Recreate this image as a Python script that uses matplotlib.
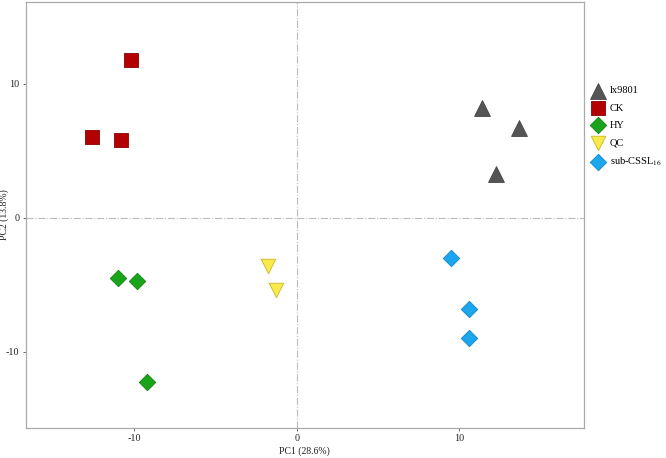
import matplotlib
matplotlib.use("Agg")
import matplotlib.pyplot as plt

plt.rcParams['font.family'] = ['Liberation Serif', 'DejaVu Serif']
plt.rcParams['mathtext.fontset'] = 'stix'
plt.rcParams['axes.unicode_minus'] = False

# PCA scores
groups = ["lx9801", "CK", "HY", "QC", "sub-CSSL$_{16}$"]
pc1 = [
    [11.4, 13.7, 12.3],
    [-10.2, -12.6, -10.8],
    [-11.0, -9.85, -9.2],
    [-1.8, -1.3],
    [9.5, 10.6, 10.6],
]
pc2 = [
    [8.2, 6.7, 3.3],
    [11.8, 6.0, 5.8],
    [-4.5, -4.7, -12.3],
    [-3.6, -5.4],
    [-3.0, -6.8, -9.0],
]
markers = ["^", "s", "D", "v", "D"]
colors = ["#555555", "#B30000", "#1AA41A", "#F7EA4A", "#1BA6EE"]
edges = ["#444444", "#8A0000", "#138013", "#C9B82A", "#1386C8"]
sizes = [130, 110, 70, 110, 70]

fig = plt.figure(figsize=(6.66, 4.58), dpi=100)
ax = fig.add_axes([0.0385, 0.0655, 0.8385, 0.93])

ax.axhline(0, color="#BBBBBB", lw=0.8, ls="-.", zorder=1)
ax.axvline(0, color="#BBBBBB", lw=0.8, ls="-.", zorder=1)

for g, xs, ys, m, c, e, s in zip(groups, pc1, pc2, markers, colors, edges, sizes):
    ax.scatter(xs, ys, marker=m, s=s, c=c, edgecolors=e, linewidths=0.6,
               label=g, zorder=3)

ax.set_xlim(-16.7, 17.7)
ax.set_ylim(-15.7, 16.1)
ax.set_xticks([-10, 0, 10])
ax.set_yticks([-10, 0, 10])
ax.tick_params(labelsize=7.3, length=2.5, width=0.6, color="#555555", pad=2,
               labelcolor="#222222")
for sp in ax.spines.values():
    sp.set_color("#AAAAAA")
    sp.set_linewidth(0.9)
ax.set_xlabel("PC1 (28.6%)", fontsize=7, labelpad=2, color="#222222")
ax.set_ylabel("PC2 (13.8%)", fontsize=7, color="#222222")
ax.yaxis.set_label_coords(-0.029, 0.5)

ax.legend(loc="upper left", bbox_to_anchor=(1.0, 0.82), frameon=False,
          fontsize=7.5, handletextpad=0.5, labelspacing=0.78,
          borderaxespad=0.3, handlelength=1.3)

fig.savefig("out.png", dpi=100)
